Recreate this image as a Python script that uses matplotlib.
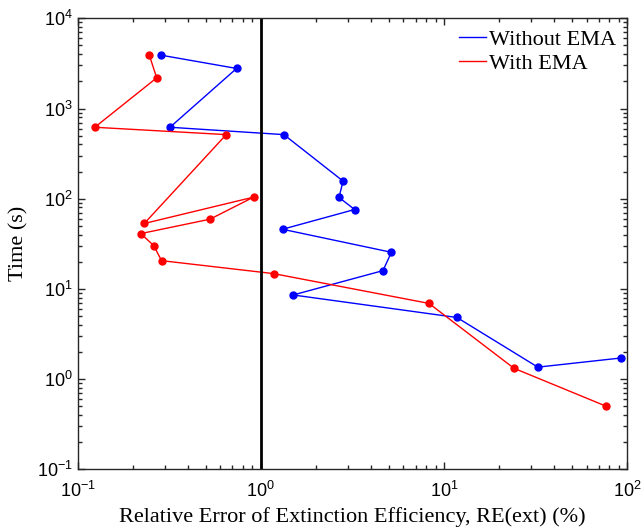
import matplotlib
matplotlib.use("Agg")
import matplotlib.pyplot as plt
from matplotlib.ticker import LogLocator

plt.rcParams['font.family'] = ['Liberation Sans', 'DejaVu Sans']

# Data (Relative error %, Time s)
without_x = [0.284, 0.737, 0.319, 1.335, 2.81, 2.67, 3.25, 1.313, 5.16, 4.64, 1.50, 11.76, 32.5, 93.0]
without_y = [3909, 2782, 620, 514, 156.9, 103.4, 76.0, 45.9, 25.5, 15.97, 8.58, 4.83, 1.36, 1.72]
with_x = [0.246, 0.270, 0.124, 0.647, 0.231, 0.912, 0.527, 0.221, 0.260, 0.287, 1.173, 8.27, 24.1, 76.1]
with_y = [3909, 2188, 620, 514, 53.2, 104.2, 59.3, 41.1, 30.3, 20.6, 14.8, 6.92, 1.32, 0.505]
ref_x = 1.0

fig = plt.figure(figsize=(6.42, 5.31), dpi=100)
ax = fig.add_axes([0.121, 0.116, 0.856, 0.8495])

ax.plot(without_x, without_y, '-o', color=(0, 0, 1), lw=1.0, ms=5, label='Without EMA')
ax.plot(with_x, with_y, '-o', color=(1, 0, 0), lw=1.0, ms=5, label='With EMA')
ax.axvline(ref_x, color='k', lw=2)

ax.set_xscale('log')
ax.set_yscale('log')
ax.set_xlim(0.1, 100)
ax.set_ylim(0.1, 1e4)
ax.xaxis.set_major_locator(LogLocator(base=10, numticks=10))
ax.yaxis.set_major_locator(LogLocator(base=10, numticks=10))
ax.xaxis.set_minor_locator(LogLocator(base=10, subs=range(2, 10), numticks=20))
ax.yaxis.set_minor_locator(LogLocator(base=10, subs=range(2, 10), numticks=20))

ax.tick_params(which='both', direction='in', top=True, right=True, labelsize=13, width=1, color='#262626')
ax.tick_params(which='major', length=5)
ax.tick_params(which='minor', length=3)
ax.tick_params(axis='x', which='major', pad=8)
for s in ax.spines.values():
    s.set_linewidth(1)
    s.set_color('#262626')

ax.set_xlabel('Relative Error of Extinction Efficiency, RE(ext) (%)', fontfamily='Liberation Serif', fontsize=16, labelpad=5)
ax.set_ylabel('Time (s)', fontfamily='Liberation Serif', fontsize=16, labelpad=6)

leg = ax.legend(loc='upper right', frameon=False, prop={'family': 'Liberation Serif', 'size': 16},
                handlelength=1.2, handletextpad=0.15, borderaxespad=0.1, labelspacing=0.15)
for h in leg.legend_handles:
    h.set_marker('')

fig.savefig('out.png', dpi=100)
